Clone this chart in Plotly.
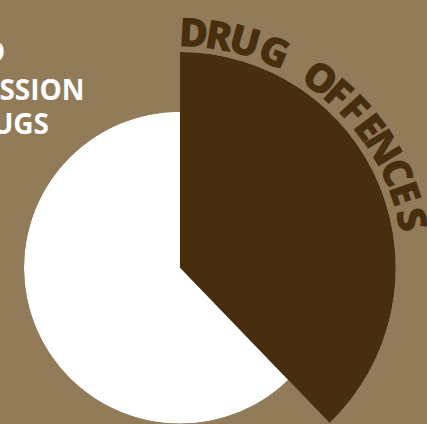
import math
import plotly.graph_objects as go

# ---- data ----
categories = ["Drug offences", "Supply and possession of drugs"]
shares = [37.8, 62.2]           # percent of the circle
arc_label = "DRUG OFFENCES"
side_label_lines = ["SUPPLY AND", "POSSESSION", "OF DRUGS"]

# ---- style / layout ----
W, H = 427, 424
BG = "#917B59"
DARK = "#472E0E"
WHITE = "#FFFFFF"

cx, cy = 180.0, 267.7          # pie centre in pixels (from top-left)
R_DARK = 215.7
R_WHITE = 156.0

def px(x):
    return x / W

def py(y):
    return 1 - y / H

dark_deg = 360 * shares[0] / sum(shares)
white_deg = 360 * shares[1] / sum(shares)

fig = go.Figure()

# white slice
fig.add_trace(go.Barpolar(
    r=[1], theta=[dark_deg + white_deg / 2], width=[white_deg],
    marker=dict(color=WHITE, line=dict(width=0)),
    name=categories[1], subplot="polar", hoverinfo="skip",
))
# dark slice (larger radius, sector subplot)
fig.add_trace(go.Barpolar(
    r=[1], theta=[dark_deg / 2], width=[dark_deg],
    marker=dict(color=DARK, line=dict(width=0)),
    name=categories[0], subplot="polar2", hoverinfo="skip",
))

common_polar = dict(
    bgcolor="rgba(0,0,0,0)",
    radialaxis=dict(visible=False, range=[0, 1]),
    angularaxis=dict(visible=False, direction="clockwise", rotation=90),
    hole=0,
)

low = math.sin(math.radians(dark_deg - 90))
fig.update_layout(
    polar=dict(
        domain=dict(x=[px(cx - R_WHITE), px(cx + R_WHITE)],
                    y=[py(cy + R_WHITE), py(cy - R_WHITE)]),
        **common_polar,
    ),
    polar2=dict(
        domain=dict(x=[px(cx), px(cx + R_DARK)],
                    y=[max(0, py(cy + R_DARK * low)), py(cy - R_DARK)]),
        sector=[90 - dark_deg, 90],
        **common_polar,
    ),
)

annotations = []
# curved label, one letter per annotation along an arc
letter_angles = [3.3, 9.6, 15.7, 23.5, None, 36.3, 41.9, 47.4, 53.0, 58.9, 65.7, 71.3, 77.7]
lcx, lcy, lr = 180.0, 270.0, 239.0
for ch, ang in zip(arc_label, letter_angles):
    if ang is None:
        continue
    a = math.radians(ang)
    x = lcx + lr * math.sin(a)
    y = lcy - lr * math.cos(a)
    annotations.append(dict(
        text=ch, x=px(x), y=py(y), xref="paper", yref="paper",
        xanchor="center", yanchor="middle", showarrow=False, textangle=ang,
        font=dict(family="Open Sans", size=40, color=DARK, weight=800),
    ))

# side label (partly outside the view)
side_right = [7, 87, 51]
side_mid = [51, 89, 123]
for txt, xr, ym in zip(side_label_lines, side_right, side_mid):
    annotations.append(dict(
        text=txt, x=px(xr), y=py(ym), xref="paper", yref="paper",
        xanchor="right", yanchor="middle", showarrow=False, height=30,
        font=dict(family="Open Sans", size=28, color=WHITE, weight=700),
    ))

fig.update_layout(
    width=W, height=H,
    margin=dict(l=0, r=0, t=0, b=0),
    paper_bgcolor=BG, plot_bgcolor=BG,
    showlegend=False,
    template="none",
    annotations=annotations,
)

fig.write_html(
    "out.html",
    config={"displayModeBar": False},
    post_script="document.body.style.margin='0';document.body.style.overflow='hidden';"
                "document.body.style.background='" + BG + "';",
)
